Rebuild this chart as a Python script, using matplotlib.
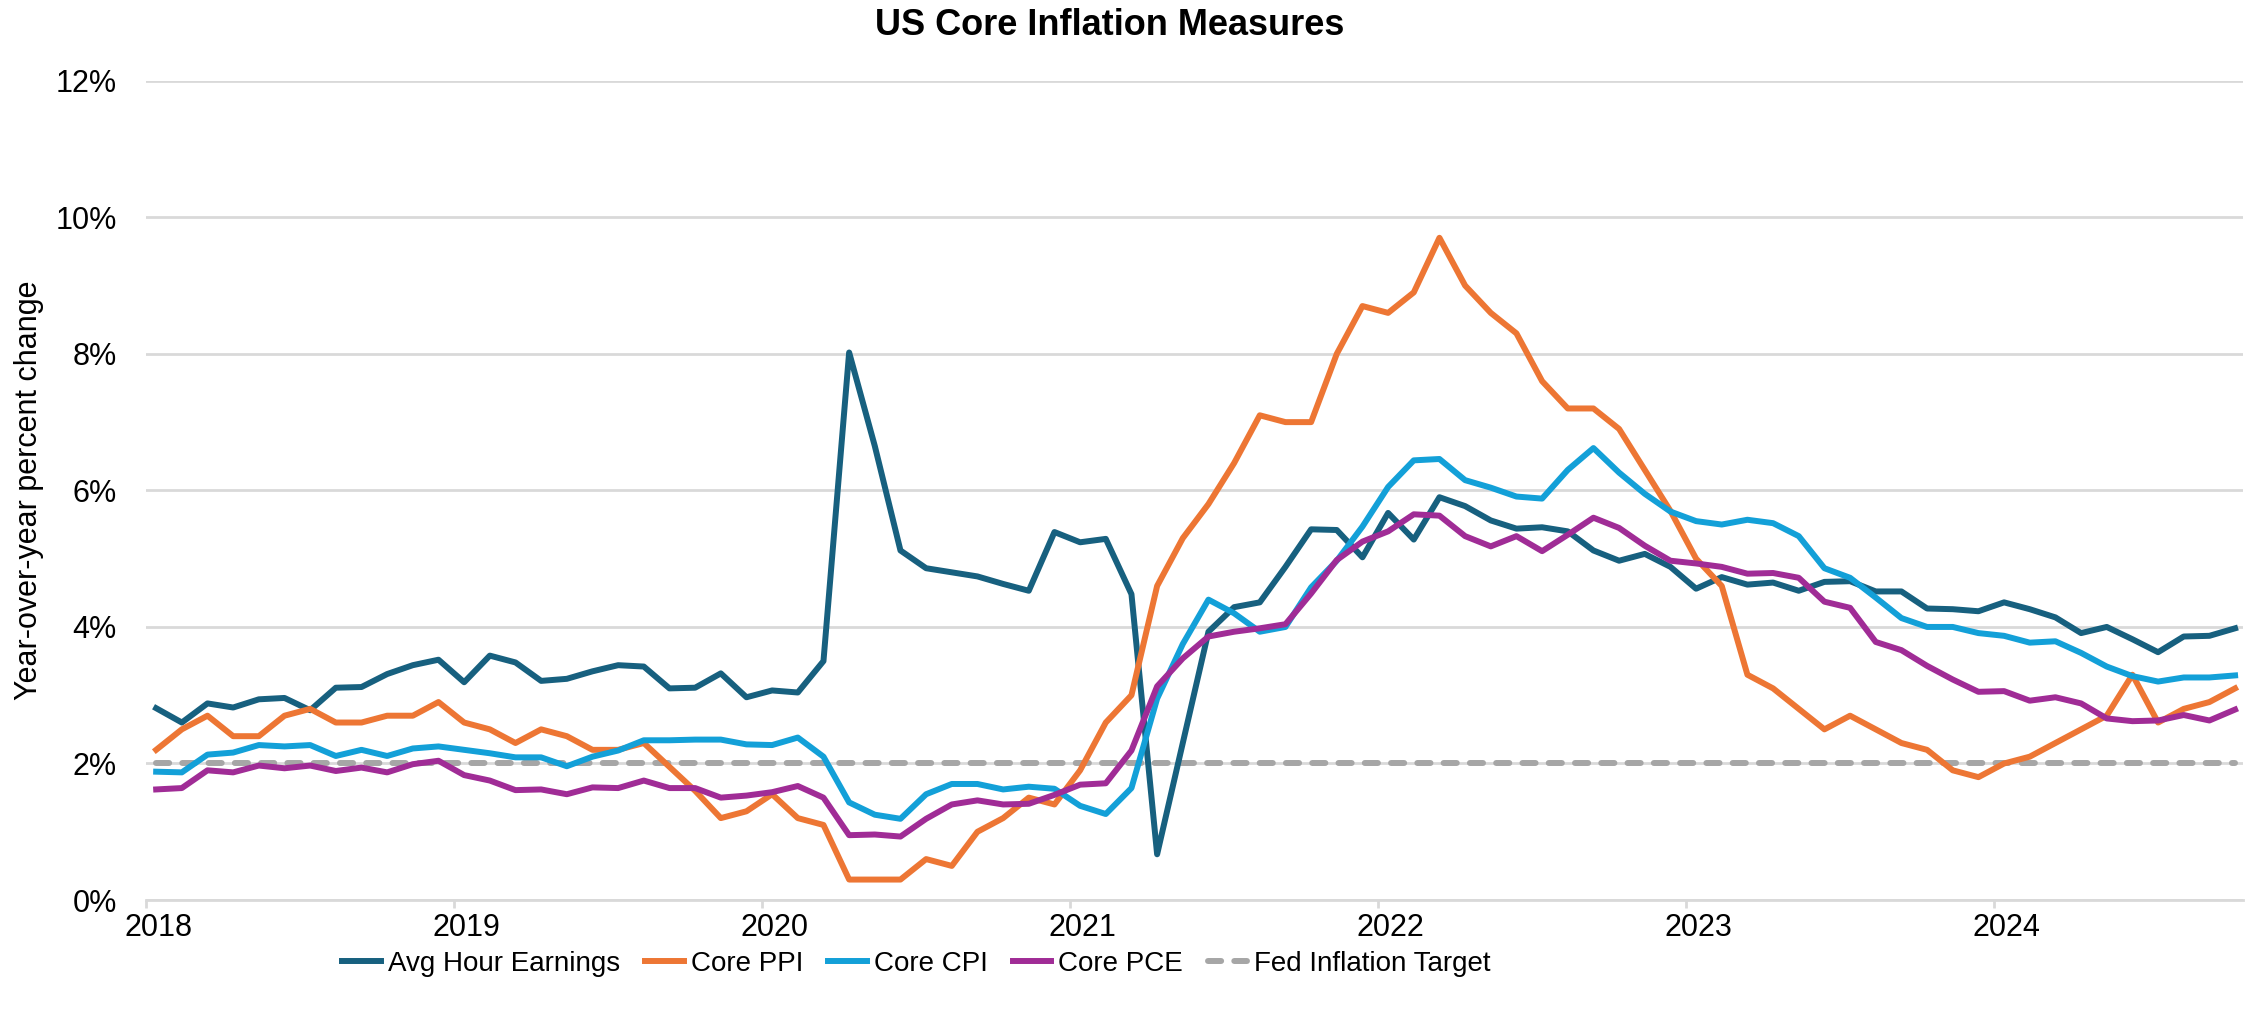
import matplotlib
matplotlib.use("Agg")
import matplotlib.pyplot as plt
import matplotlib.transforms as mtransforms
import numpy as np

plt.rcParams['font.family'] = ['Liberation Sans', 'DejaVu Sans']

# monthly, Jan 2018 .. Oct 2024
avg_hour_earnings = [
    2.81, 2.60, 2.88, 2.82, 2.94, 2.96, 2.78, 3.11, 3.12, 3.31, 3.44, 3.52,
    3.19, 3.58, 3.48, 3.21, 3.24, 3.35, 3.44, 3.42, 3.10, 3.11, 3.32, 2.97,
    3.07, 3.04, 3.50, 8.02, 6.65, 5.12, 4.86, 4.80, 4.74, 4.63, 4.53, 5.39,
    5.24, 5.29, 4.48, 0.67, 2.30, 3.93, 4.29, 4.36, 4.88, 5.43, 5.42, 5.02,
    5.67, 5.28, 5.90, 5.77, 5.56, 5.44, 5.46, 5.40, 5.12, 4.97, 5.07, 4.88,
    4.56, 4.73, 4.62, 4.65, 4.53, 4.66, 4.67, 4.52, 4.52, 4.27, 4.26, 4.23,
    4.36, 4.26, 4.14, 3.91, 4.00, 3.82, 3.63, 3.86, 3.87, 3.98,
]
core_ppi = [
    2.2, 2.5, 2.7, 2.4, 2.4, 2.7, 2.8, 2.6, 2.6, 2.7, 2.7, 2.9,
    2.6, 2.5, 2.3, 2.5, 2.4, 2.2, 2.2, 2.3, 1.95, 1.6, 1.2, 1.3,
    1.55, 1.2, 1.1, 0.3, 0.3, 0.3, 0.6, 0.5, 1.0, 1.2, 1.5, 1.4,
    1.9, 2.6, 3.0, 4.6, 5.3, 5.8, 6.4, 7.1, 7.0, 7.0, 8.0, 8.7,
    8.6, 8.9, 9.7, 9.0, 8.6, 8.3, 7.6, 7.2, 7.2, 6.9, 6.3, 5.7,
    5.0, 4.6, 3.3, 3.1, 2.8, 2.5, 2.7, 2.5, 2.3, 2.2, 1.9, 1.8,
    2.0, 2.1, 2.3, 2.5, 2.7, 3.3, 2.6, 2.8, 2.9, 3.1,
]
core_cpi = [
    1.88, 1.87, 2.13, 2.16, 2.27, 2.25, 2.27, 2.11, 2.20, 2.11, 2.22, 2.25,
    2.20, 2.15, 2.09, 2.09, 1.96, 2.10, 2.19, 2.34, 2.34, 2.35, 2.35, 2.28,
    2.27, 2.38, 2.10, 1.43, 1.25, 1.19, 1.55, 1.70, 1.70, 1.62, 1.66, 1.63,
    1.38, 1.26, 1.64, 2.95, 3.75, 4.40, 4.20, 3.93, 4.00, 4.58, 4.97, 5.47,
    6.05, 6.44, 6.46, 6.15, 6.04, 5.91, 5.88, 6.30, 6.62, 6.26, 5.95, 5.69,
    5.55, 5.50, 5.57, 5.52, 5.33, 4.86, 4.72, 4.43, 4.13, 4.00, 4.00, 3.91,
    3.87, 3.77, 3.79, 3.62, 3.42, 3.28, 3.20, 3.26, 3.26, 3.29,
]
core_pce = [
    1.62, 1.64, 1.90, 1.87, 1.97, 1.93, 1.97, 1.89, 1.94, 1.87, 1.99, 2.04,
    1.83, 1.75, 1.61, 1.62, 1.55, 1.65, 1.64, 1.75, 1.64, 1.64, 1.50, 1.53,
    1.58, 1.67, 1.50, 0.95, 0.96, 0.93, 1.19, 1.40, 1.46, 1.40, 1.41, 1.54,
    1.69, 1.71, 2.19, 3.13, 3.54, 3.86, 3.93, 3.98, 4.04, 4.49, 4.98, 5.25,
    5.40, 5.65, 5.63, 5.33, 5.18, 5.33, 5.11, 5.35, 5.60, 5.45, 5.19, 4.97,
    4.93, 4.88, 4.78, 4.79, 4.72, 4.37, 4.28, 3.78, 3.66, 3.43, 3.23, 3.05,
    3.06, 2.92, 2.97, 2.88, 2.66, 2.62, 2.63, 2.71, 2.63, 2.79,
]
fed_target = 2.0
years = ["2018", "2019", "2020", "2021", "2022", "2023", "2024"]

months = np.arange(len(core_cpi))

fig = plt.figure(figsize=(22.62, 10.17), dpi=100)
ax = fig.add_axes([0.0645, 0.115, 0.927, 0.8056])

lw = 4.3
ax.plot(months, avg_hour_earnings, color='#17607F', lw=lw, label='Avg Hour Earnings', zorder=3)
ax.plot(months, core_ppi, color='#ED7634', lw=lw, label='Core PPI', zorder=3)
ax.plot(months, core_cpi, color='#13A0D8', lw=lw, label='Core CPI', zorder=3)
ax.plot(months, core_pce, color='#A02C96', lw=lw, label='Core PCE', zorder=3)
ax.plot(months, [fed_target] * len(months), color='#A6A6A6', lw=lw,
        ls=(0, (2.2, 2.2)), dash_capstyle='round', label='Fed Inflation Target', zorder=2)

ax.set_ylim(0, 12)
ax.set_yticks(range(0, 13, 2))
ax.set_yticklabels([f"{v}%" for v in range(0, 13, 2)])
ax.set_xlim(-0.4, 81.3)
ax.set_xticks([12 * i - 0.4 for i in range(len(years))])
ax.set_xticklabels(years)

ax.grid(axis='y', color='#D9D9D9', lw=2)
ax.set_axisbelow(True)
for s in ['top', 'right', 'left']:
    ax.spines[s].set_visible(False)
ax.spines['bottom'].set_color('#D9D9D9')
ax.spines['bottom'].set_linewidth(2)
ax.tick_params(axis='y', length=0, pad=21, labelsize=22)
ax.tick_params(axis='x', length=6, width=2, color='#D9D9D9', pad=3, labelsize=22)
offset = mtransforms.ScaledTranslation(0.13, 0, fig.dpi_scale_trans)
for lab in ax.get_xticklabels():
    lab.set_transform(lab.get_transform() + offset)

ax.set_ylabel("Year-over-year percent change", fontsize=22, labelpad=8)
fig.text(0.4905, 0.975, "US Core Inflation Measures", ha='center', va='center',
         fontsize=26, fontweight='bold')

fig.legend(loc='center', bbox_to_anchor=(0.405, 0.052), ncol=5, frameon=False,
           fontsize=20, handlelength=1.4, handletextpad=0.25, columnspacing=0.9)

fig.savefig("out.png", dpi=100)
